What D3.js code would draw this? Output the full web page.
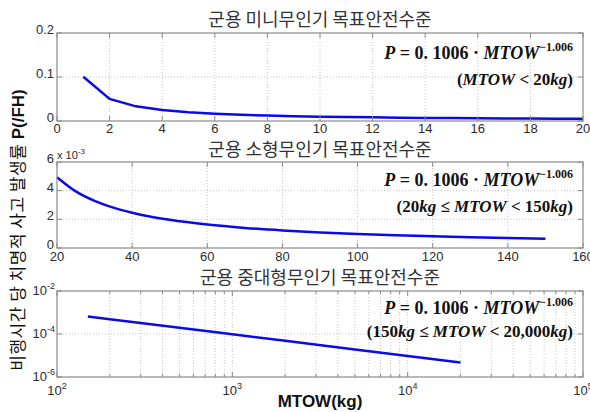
<!DOCTYPE html>
<html><head><meta charset="utf-8">
<script src="https://cdn.jsdelivr.net/npm/d3@7"></script>
<style>
body{margin:0;background:#fff;}
svg{display:block;font-family:"Liberation Sans",Arial,sans-serif;}
</style></head>
<body>
<svg id="c" width="590" height="412"></svg>
<script>
// ---- data ----
const titles = ["군용 미니무인기 목표안전수준","군용 소형무인기 목표안전수준","군용 중대형무인기 목표안전수준"];
const miniX = [1,2,3,4,5,6,7,8,9,10,11,12,13,14,15,16,17,18,19,20];
const miniP = [0.1006,0.05009,0.03331,0.02494,0.01993,0.01659,0.01420,0.01242,0.01103,0.00992,0.009015,0.008259,0.007620,0.007073,0.006599,0.006184,0.005818,0.005493,0.005202,0.00494];
const smallX = [20,25,30,35,40,45,50,60,70,80,90,100,110,120,130,140,150];
const smallP = [0.00494,0.003947,0.003286,0.002814,0.002460,0.002185,0.001965,0.001636,0.001401,0.001225,0.001088,0.000979,0.000889,0.000815,0.000752,0.000698,0.000651];
const largeX = [150,200,500,1000,2000,5000,10000,20000];
const largeP = [6.51e-4,4.873e-4,1.938e-4,9.65e-5,4.806e-5,1.912e-5,9.52e-6,4.74e-6];
const miniXTicks = [0,2,4,6,8,10,12,14,16,18,20];
const miniYTicks = [0,0.1,0.2];
const miniYLabels = ["0","0.1","0.2"];
const smallXTicks = [20,40,60,80,100,120,140,160];
const smallYTicks = [0,0.002,0.004,0.006];
const smallYLabels = ["0","2","4","6"];
const largeXTicks = [100,1000,10000,100000];
const largeXExp = ["2","3","4","5"];
const largeYTicks = [1e-6,1e-4,1e-2];
const largeYExp = ["-6","-4","-2"];
const eqExp = "−1.006";
const ranges = ["(MTOW < 20kg)","(20kg ≤ MTOW < 150kg)","(150kg ≤ MTOW < 20,000kg)"];
const yLabelKo = "비행시간 당 치명적 사고 발생률 ";
const yLabelEn = "P(/FH)";
const xLabel = "MTOW(kg)";

// ---- layout ----
const svg = d3.select("#c");
const L = 57, R = 583;
const panels = [
  {top:33, bot:121, titleY:26, e1:26, e2:52},
  {top:162, bot:248, titleY:156, e1:24, e2:50},
  {top:291, bot:377, titleY:284, e1:23, e2:46}
];
const gridCol = "#c4c4c4", boxCol = "#8a8a8a", txtCol = "#2b2b2b", lineCol = "#0a0ae8";
const serif = "'Liberation Serif','DejaVu Serif',serif";
const ko = "'Noto Sans CJK KR','Noto Sans',sans-serif";

function frame(g, x, y, xt, yt, xminor){
  const [y0,y1] = y.range();
  xt.forEach(v=>{ if(x(v)>L+1 && x(v)<R-1) g.append("line").attr("x1",x(v)).attr("x2",x(v)).attr("y1",y1).attr("y2",y0)
    .attr("stroke",gridCol).attr("stroke-dasharray","1,2"); });
  (xminor||[]).forEach(v=>{ g.append("line").attr("x1",x(v)).attr("x2",x(v)).attr("y1",y1).attr("y2",y0)
    .attr("stroke",gridCol).attr("stroke-dasharray","1,2"); });
  yt.forEach(v=>{ if(y(v)<y0-1 && y(v)>y1+1) g.append("line").attr("x1",L).attr("x2",R).attr("y1",y(v)).attr("y2",y(v))
    .attr("stroke",gridCol).attr("stroke-dasharray","1,2"); });
}
function box(g, x, y, xt, yt, xminor){
  const [y0,y1] = y.range();
  g.append("rect").attr("x",L).attr("y",y1).attr("width",R-L).attr("height",y0-y1)
    .attr("fill","none").attr("stroke",boxCol).attr("stroke-width",1.2);
  xt.forEach(v=>{
    g.append("line").attr("x1",x(v)).attr("x2",x(v)).attr("y1",y0).attr("y2",y0-5).attr("stroke",boxCol);
    g.append("line").attr("x1",x(v)).attr("x2",x(v)).attr("y1",y1).attr("y2",y1+5).attr("stroke",boxCol);
  });
  (xminor||[]).forEach(v=>{
    g.append("line").attr("x1",x(v)).attr("x2",x(v)).attr("y1",y0).attr("y2",y0-3).attr("stroke",boxCol);
    g.append("line").attr("x1",x(v)).attr("x2",x(v)).attr("y1",y1).attr("y2",y1+3).attr("stroke",boxCol);
  });
  yt.forEach(v=>{
    g.append("line").attr("x1",L).attr("x2",L+5).attr("y1",y(v)).attr("y2",y(v)).attr("stroke",boxCol);
    g.append("line").attr("x1",R).attr("x2",R-5).attr("y1",y(v)).attr("y2",y(v)).attr("stroke",boxCol);
  });
}
function eq(g, p, i){
  const t1 = g.append("text").attr("x",R-10).attr("y",p.top+p.e1).attr("text-anchor","end")
    .style("font-family",serif).attr("font-weight","bold").attr("font-size",18).attr("fill","#111");
  t1.append("tspan").attr("font-style","italic").text("P");
  t1.append("tspan").text(" = 0. 1006 · ");
  t1.append("tspan").attr("font-style","italic").text("MTOW");
  t1.append("tspan").attr("font-size",12).attr("dy",-8).text(eqExp);
  const t2 = g.append("text").attr("x",R-10).attr("y",p.top+p.e2).attr("text-anchor","end")
    .style("font-family",serif).attr("font-weight","bold").attr("font-size",17).attr("fill","#111");
  ranges[i].split(/([A-Za-z]+)/).forEach(tok=>{
    if(!tok) return;
    const sp = t2.append("tspan").text(tok);
    if(/^[A-Za-z]+$/.test(tok)) sp.attr("font-style","italic");
  });
}
const line = (x,y,curve)=>d3.line().x(d=>x(d[0])).y(d=>y(d[1])).curve(curve||d3.curveLinear);

panels.forEach((p,i)=>{
  svg.append("text").attr("x",(L+R)/2).attr("y",p.titleY).attr("text-anchor","middle")
    .style("font-family",ko).attr("font-size",18).attr("fill","#333").text(titles[i]);
});

// Panel 1
{
  const p = panels[0], g = svg.append("g");
  const x = d3.scaleLinear().domain([0,20]).range([L,R]);
  const y = d3.scaleLinear().domain([0,0.2]).range([p.bot,p.top]);
  frame(g,x,y,miniXTicks,miniYTicks);
  g.append("path").datum(miniX.map((v,k)=>[v,miniP[k]])).attr("d",line(x,y)).attr("fill","none").attr("stroke",lineCol).attr("stroke-width",2.5);
  box(g,x,y,miniXTicks,miniYTicks);
  miniXTicks.forEach(v=>g.append("text").attr("x",x(v)).attr("y",p.bot+12).attr("text-anchor","middle").attr("font-size",13).attr("fill",txtCol).text(v));
  miniYTicks.forEach((v,k)=>g.append("text").attr("x",L-3).attr("y",y(v)+1).attr("text-anchor","end").attr("font-size",13).attr("fill",txtCol).text(miniYLabels[k]));
  eq(g,p,0);
}
// Panel 2
{
  const p = panels[1], g = svg.append("g");
  const x = d3.scaleLinear().domain([20,160]).range([L,R]);
  const y = d3.scaleLinear().domain([0,0.006]).range([p.bot,p.top]);
  frame(g,x,y,smallXTicks,smallYTicks);
  g.append("path").datum(smallX.map((v,k)=>[v,smallP[k]])).attr("d",line(x,y,d3.curveMonotoneX)).attr("fill","none").attr("stroke",lineCol).attr("stroke-width",2.5);
  box(g,x,y,smallXTicks,smallYTicks);
  smallXTicks.forEach(v=>g.append("text").attr("x",x(v)).attr("y",p.bot+13).attr("text-anchor","middle").attr("font-size",13).attr("fill",txtCol).text(v));
  smallYTicks.forEach((v,k)=>g.append("text").attr("x",L-3).attr("y",y(v)+1).attr("text-anchor","end").attr("font-size",13).attr("fill",txtCol).text(smallYLabels[k]));
  const m = g.append("text").attr("x",L).attr("y",p.top-3).attr("font-size",11).attr("fill",txtCol);
  m.append("tspan").text("x 10");
  m.append("tspan").attr("font-size",8).attr("dy",-5).text("-3");
  eq(g,p,1);
}
// Panel 3
{
  const p = panels[2], g = svg.append("g");
  const x = d3.scaleLog().domain([100,100000]).range([L,R]);
  const y = d3.scaleLog().domain([1e-6,1e-2]).range([p.bot,p.top]);
  const minor = [];
  [100,1000,10000].forEach(d=>{ for(let k=2;k<=9;k++) minor.push(d*k); });
  frame(g,x,y,largeXTicks,largeYTicks,minor);
  g.append("path").datum(largeX.map((v,k)=>[v,largeP[k]])).attr("d",line(x,y)).attr("fill","none").attr("stroke",lineCol).attr("stroke-width",2.5);
  box(g,x,y,largeXTicks,largeYTicks,minor);
  largeXTicks.forEach((v,k)=>{
    const t = g.append("text").attr("x",x(v)).attr("y",p.bot+18).attr("text-anchor","middle").attr("font-size",13).attr("fill",txtCol);
    t.append("tspan").text("10");
    t.append("tspan").attr("font-size",9).attr("dy",-6).text(largeXExp[k]);
  });
  largeYTicks.forEach((v,k)=>{
    const t = g.append("text").attr("x",L-2).attr("y",y(v)+4).attr("text-anchor","end").attr("font-size",13).attr("fill",txtCol);
    t.append("tspan").text("10");
    t.append("tspan").attr("font-size",9).attr("dy",-6).text(largeYExp[k]);
  });
  eq(g,p,2);
}
// axis labels
svg.append("text").attr("x",(L+R)/2).attr("y",407).attr("text-anchor","middle").attr("font-weight","bold").attr("font-size",17).attr("fill","#111").text(xLabel);
const yl = svg.append("text").attr("transform","translate(24,230) rotate(-90)").attr("text-anchor","middle").attr("font-size",17).attr("fill","#111");
yl.append("tspan").style("font-family",ko).attr("letter-spacing",0.5).text(yLabelKo);
yl.append("tspan").attr("font-weight","bold").text(yLabelEn);
</script>
</body></html>
